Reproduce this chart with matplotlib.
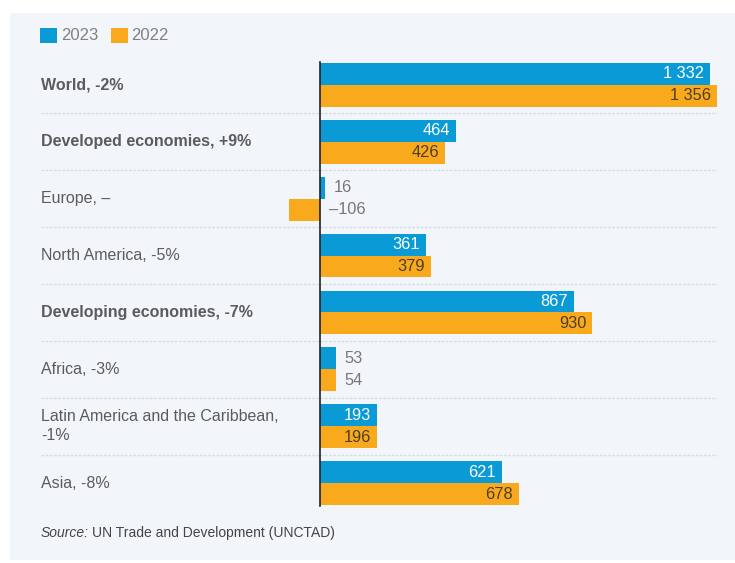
import matplotlib.pyplot as plt
import matplotlib.transforms as mtransforms
from matplotlib.patches import Rectangle

plt.rcParams['font.family'] = ['Liberation Sans', 'DejaVu Sans']

labels = ["World, -2%", "Developed economies, +9%", "Europe, \u2013", "North America, -5%",
          "Developing economies, -7%", "Africa, -3%",
          "Latin America and the Caribbean,\n-1%", "Asia, -8%"]
bold = [True, True, False, False, True, False, False, False]
v2023 = [1332, 464, 16, 361, 867, 53, 193, 621]
v2022 = [1356, 426, -106, 379, 930, 54, 196, 678]

blue = "#0a9ad6"
orange = "#f8aa1c"
txt = "#5b5b5b"

def fmt(v):
    s = f"{abs(v):,}".replace(",", " ")
    return ("\u2013" if v < 0 else "") + s

fig = plt.figure(figsize=(7.35, 5.63), dpi=100)
fig.patch.set_facecolor("white")
fig.patches.append(Rectangle((10 / 735, 3 / 563), 725 / 735, 547 / 563,
                             transform=fig.transFigure, facecolor="#f2f6fa",
                             edgecolor="none", zorder=-5))

ax = fig.add_axes([41 / 735, 1 - 511.5 / 563, 684 / 735, 455 / 563])
ax.set_facecolor("none")
scale = 397 / 1356
ax.set_xlim(-279 / scale, 405 / scale)
ax.set_ylim(7.5, -0.5)
for s in ax.spines.values():
    s.set_visible(False)
ax.set_xticks([])
ax.set_yticks([])

h = 0.385
n = len(labels)
ys = list(range(n))
ax.barh([y - h / 2 for y in ys], v2023, height=h, color=blue, zorder=2)
ax.barh([y + h / 2 for y in ys], v2022, height=h, color=orange, zorder=2)

ax.plot([0, 0], [-h - 0.02, n - 1 + h + 0.02], color="#222222", lw=1.2, zorder=3)

trans = mtransforms.blended_transform_factory(ax.transAxes, ax.transData)
for i, lab in enumerate(labels):
    ax.text(0.0, i, lab, transform=trans, ha="left", va="center", fontsize=11.5,
            color=txt, fontweight="bold" if bold[i] else "normal", linespacing=1.3)
    if i > 0:
        ax.plot([0.0, 676 / 684], [i - 0.5, i - 0.5], transform=trans,
                color="#d9dee3", lw=1, ls=(0, (2, 1)), zorder=1)

for i in ys:
    for v, off, col in ((v2023[i], -h / 2, "white"), (v2022[i], h / 2, "#4a3e2a")):
        if abs(v) >= 150:
            ax.text(v - 20, i + off, fmt(v), ha="right", va="center", fontsize=11.8, color=col)
        else:
            ax.text(max(v, 0) + 30, i + off, fmt(v), ha="left", va="center",
                    fontsize=11.8, color="#777777")

# legend
fig.patches.append(Rectangle((40 / 735, 1 - 43 / 563), 17 / 735, 15 / 563,
                             transform=fig.transFigure, facecolor=blue, edgecolor="none"))
fig.text(61 / 735, 1 - 35 / 563, "2023", ha="left", va="center", fontsize=12, color="#808080")
fig.patches.append(Rectangle((111 / 735, 1 - 43 / 563), 17 / 735, 15 / 563,
                             transform=fig.transFigure, facecolor=orange, edgecolor="none"))
fig.text(131 / 735, 1 - 35 / 563, "2022", ha="left", va="center", fontsize=12, color="#808080")

fig.text(41 / 735, 1 - 533 / 563, "Source:", ha="left", va="center", fontsize=10,
         style="italic", color="#444444")
fig.text(92 / 735, 1 - 533 / 563, "UN Trade and Development (UNCTAD)", ha="left",
         va="center", fontsize=10, color="#444444")

fig.savefig("out.png", dpi=100, facecolor=fig.get_facecolor())
